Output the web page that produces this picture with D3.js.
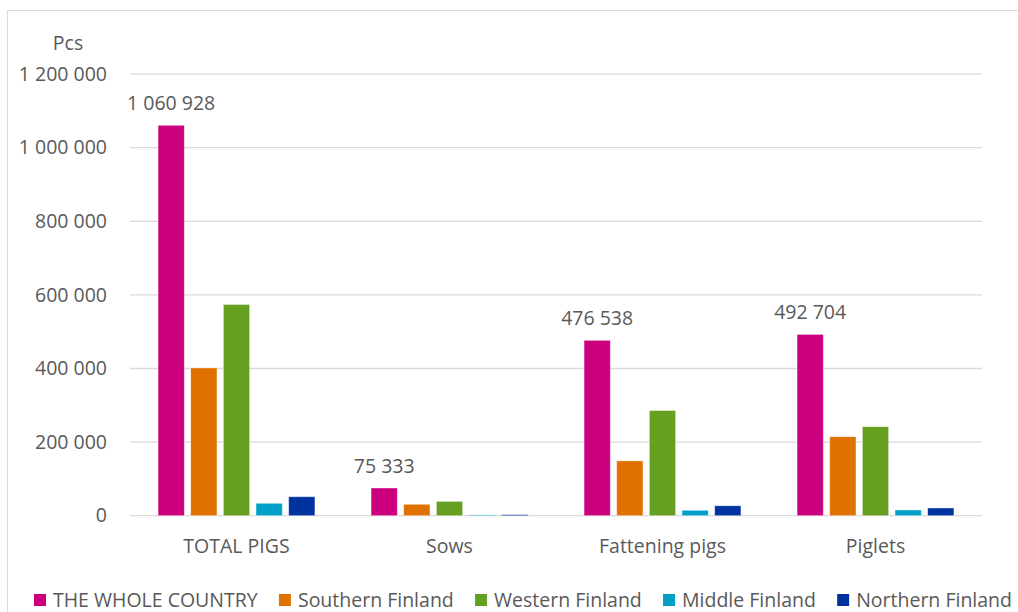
<!DOCTYPE html>
<html>
<head>
<meta charset="utf-8">
<script src="https://cdn.jsdelivr.net/npm/d3@7"></script>
<style>
  html, body { margin: 0; padding: 0; background: #fff; }
  svg { display: block; font-family: "Open Sans", "Noto Sans", sans-serif; }
</style>
</head>
<body>
<svg id="chart" width="1018" height="612"></svg>
<script>
// ---- data ----
const categories = ["TOTAL PIGS", "Sows", "Fattening pigs", "Piglets"];
const seriesNames = ["THE WHOLE COUNTRY", "Southern Finland", "Western Finland", "Middle Finland", "Northern Finland"];
const wholeCountry = [1060928, 75333, 476538, 492704];
const southernFinland = [401600, 31000, 149000, 214600];
const westernFinland = [574000, 39000, 285800, 241800];
const middleFinland = [33700, 2300, 14700, 15500];
const northernFinland = [51600, 3000, 27000, 21000];
const yTicks = [0, 200000, 400000, 600000, 800000, 1000000, 1200000];
const yUnit = "Pcs";

const seriesValues = [wholeCountry, southernFinland, westernFinland, middleFinland, northernFinland];
const colors = ["#cc007f", "#e07000", "#66a020", "#00a0c8", "#0033a0"];

// ---- layout ----
const W = 1018, H = 612;
const plot = { left: 130, right: 982, top: 74.1, bottom: 515.7 };
const textColor = "#595959";
const gridColor = "#d9d9d9";
const fontSize = 19.5;

const fmt = d3.formatLocale({ decimal: ",", thousands: " ", grouping: [3], currency: ["", ""] }).format(",d");

const svg = d3.select("#chart");

// chart border (top & left visible)
svg.append("path")
  .attr("d", `M7.5,${H} L7.5,10.5 L${W},10.5`)
  .attr("fill", "none").attr("stroke", gridColor).attr("stroke-width", 1);

const x = d3.scaleBand().domain(categories).range([plot.left, plot.right]).padding(0);
const y = d3.scaleLinear().domain([0, 1200000]).range([plot.bottom, plot.top]);

// gridlines
svg.append("g").selectAll("line").data(yTicks).join("line")
  .attr("x1", plot.left).attr("x2", plot.right)
  .attr("y1", d => y(d)).attr("y2", d => y(d))
  .attr("stroke", gridColor).attr("stroke-width", 1.3);

// y-axis labels
const yAxis = d3.axisLeft(y).tickValues(yTicks).tickFormat(fmt).tickSize(0).tickPadding(0);
const gy = svg.append("g").attr("transform", "translate(107,0)").call(yAxis);
gy.select(".domain").remove();
gy.selectAll("text").attr("fill", textColor).attr("font-size", fontSize)
  .attr("font-family", '"Open Sans", "Noto Sans", sans-serif');

// unit label
svg.append("text").attr("x", 68).attr("y", 43).attr("dy", "0.35em")
  .attr("text-anchor", "middle").attr("fill", textColor).attr("font-size", fontSize).text(yUnit);

// bars
const bw = x.bandwidth();
const step = bw * 0.1533;
const barW = bw * 0.1233;
const span = step * (seriesNames.length - 1) + barW;
const barX = (c, i) => x(c) + bw / 2 - span / 2 + i * step;

seriesNames.forEach((name, i) => {
  svg.append("g").selectAll("rect").data(categories).join("rect")
    .attr("x", c => barX(c, i))
    .attr("y", (c, j) => y(seriesValues[i][j]))
    .attr("width", barW)
    .attr("height", (c, j) => y(0) - y(seriesValues[i][j]))
    .attr("fill", colors[i])
    .attr("stroke", "#ffffff").attr("stroke-opacity", 0.5).attr("stroke-width", 0.8);
});

// data labels on whole country
svg.append("g").selectAll("text").data(categories).join("text")
  .attr("x", c => barX(c, 0) + barW / 2)
  .attr("y", (c, j) => y(wholeCountry[j]) - 22)
  .attr("dy", "0.35em")
  .attr("text-anchor", "middle").attr("fill", textColor).attr("font-size", fontSize)
  .text((c, j) => fmt(wholeCountry[j]));

// category labels
svg.append("g").selectAll("text").data(categories).join("text")
  .attr("x", c => x(c) + bw / 2)
  .attr("y", 546).attr("dy", "0.35em")
  .attr("text-anchor", "middle").attr("fill", textColor).attr("font-size", fontSize)
  .text(c => c);

// legend: items spread between left and right legend edges
const lg = svg.append("g");
const ly = 600, legLeft = 34, legRight = 1012, mark = 12, markGap = 7;
const items = seriesNames.map((name, i) => {
  const g = lg.append("g");
  g.append("rect").attr("y", ly - 6).attr("width", mark).attr("height", mark).attr("fill", colors[i]);
  const t = g.append("text").attr("x", mark + markGap).attr("y", ly).attr("dy", "0.35em")
    .attr("fill", textColor).attr("font-size", fontSize).text(name);
  return { g, w: mark + markGap + t.node().getComputedTextLength() };
});
const totalW = d3.sum(items, d => d.w);
const gap = (legRight - legLeft - totalW) / (items.length - 1);
let lx = legLeft;
items.forEach(it => { it.g.attr("transform", `translate(${lx},0)`); lx += it.w + gap; });
</script>
</body>
</html>
